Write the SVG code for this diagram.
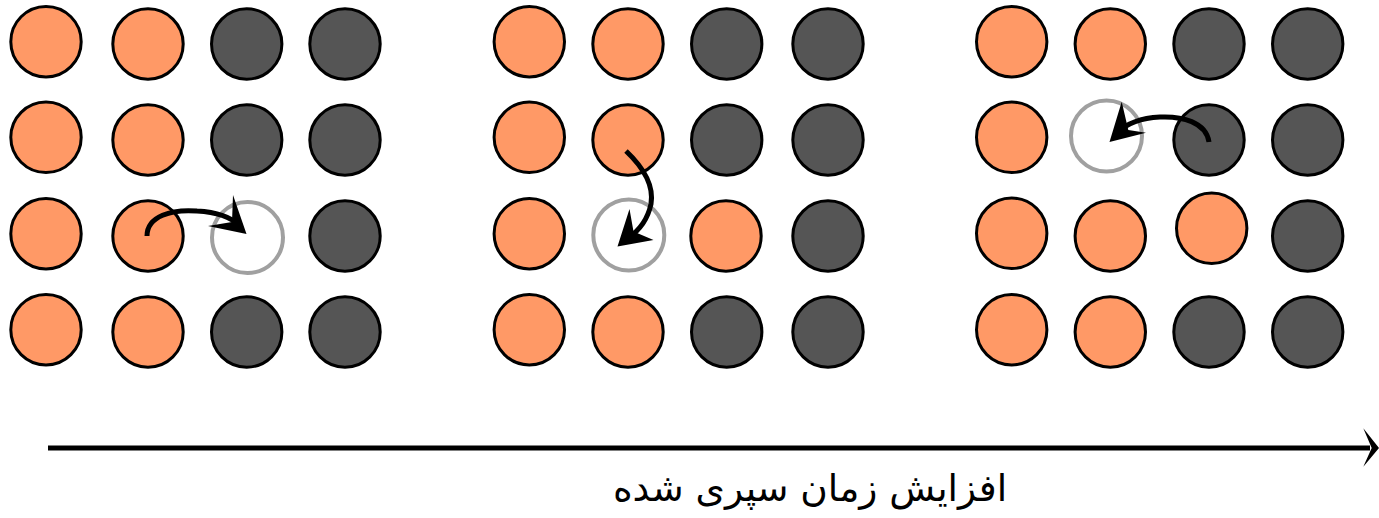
<svg xmlns="http://www.w3.org/2000/svg" width="1379" height="518" viewBox="0 0 1379 518">
<style>
.o{fill:#FF9966;stroke:#000;stroke-width:3}
.d{fill:#555555;stroke:#000;stroke-width:3}
.v{fill:#fff;stroke:#A0A0A0;stroke-width:4}
.c{fill:none;stroke:#000;stroke-width:5}
.h{fill:#000;stroke:none}
.t{font-family:"DejaVu Sans",sans-serif;font-size:37.5px;fill:#000}
</style>
<rect width="1379" height="518" fill="#fff"/>
<g id="grid1">
<g id="g1-r1c1"><circle class="o" cx="46" cy="41.7" r="35.2"/></g>
<g id="g1-r1c2"><circle class="o" cx="148" cy="44" r="35.2"/></g>
<g id="g1-r1c3"><circle class="d" cx="246.7" cy="44" r="35.2"/></g>
<g id="g1-r1c4"><circle class="d" cx="345" cy="44" r="35.2"/></g>
<g id="g1-r2c1"><circle class="o" cx="46" cy="137.3" r="35.2"/></g>
<g id="g1-r2c2"><circle class="o" cx="148" cy="140" r="35.2"/></g>
<g id="g1-r2c3"><circle class="d" cx="246.7" cy="140" r="35.2"/></g>
<g id="g1-r2c4"><circle class="d" cx="345" cy="140" r="35.2"/></g>
<g id="g1-r3c1"><circle class="o" cx="46" cy="233.7" r="35.2"/></g>
<g id="g1-r3c2"><circle class="o" cx="148" cy="236" r="35.2"/></g>
<g id="g1-r3c3"><circle class="v" cx="247.5" cy="237.5" r="35.5"/></g>
<g id="g1-r3c4"><circle class="d" cx="345" cy="236" r="35.2"/></g>
<g id="g1-r4c1"><circle class="o" cx="46" cy="329.7" r="35.2"/></g>
<g id="g1-r4c2"><circle class="o" cx="148" cy="332" r="35.2"/></g>
<g id="g1-r4c3"><circle class="d" cx="246.7" cy="332" r="35.2"/></g>
<g id="g1-r4c4"><circle class="d" cx="345" cy="332" r="35.2"/></g>
</g>
<g id="grid2">
<g id="g2-r1c1"><circle class="o" cx="529.3" cy="41.7" r="35.2"/></g>
<g id="g2-r1c2"><circle class="o" cx="628" cy="44" r="35.2"/></g>
<g id="g2-r1c3"><circle class="d" cx="726.7" cy="44" r="35.2"/></g>
<g id="g2-r1c4"><circle class="d" cx="828" cy="44" r="35.2"/></g>
<g id="g2-r2c1"><circle class="o" cx="529.3" cy="137.3" r="35.2"/></g>
<g id="g2-r2c2"><circle class="o" cx="628" cy="140" r="35.2"/></g>
<g id="g2-r2c3"><circle class="d" cx="726.7" cy="140" r="35.2"/></g>
<g id="g2-r2c4"><circle class="d" cx="828" cy="140" r="35.2"/></g>
<g id="g2-r3c1"><circle class="o" cx="529.3" cy="233.7" r="35.2"/></g>
<g id="g2-r3c2"><circle class="v" cx="628.8" cy="235" r="35.5"/></g>
<g id="g2-r3c3"><circle class="o" cx="726" cy="236" r="35.2"/></g>
<g id="g2-r3c4"><circle class="d" cx="828" cy="236" r="35.2"/></g>
<g id="g2-r4c1"><circle class="o" cx="529.3" cy="329.7" r="35.2"/></g>
<g id="g2-r4c2"><circle class="o" cx="628" cy="332" r="35.2"/></g>
<g id="g2-r4c3"><circle class="d" cx="726.7" cy="332" r="35.2"/></g>
<g id="g2-r4c4"><circle class="d" cx="828" cy="332" r="35.2"/></g>
</g>
<g id="grid3">
<g id="g3-r1c1"><circle class="o" cx="1011.7" cy="41.7" r="35.2"/></g>
<g id="g3-r1c2"><circle class="o" cx="1110.3" cy="44" r="35.2"/></g>
<g id="g3-r1c3"><circle class="d" cx="1209" cy="44" r="35.2"/></g>
<g id="g3-r1c4"><circle class="d" cx="1307.7" cy="44" r="35.2"/></g>
<g id="g3-r2c1"><circle class="o" cx="1011.7" cy="137.3" r="35.2"/></g>
<g id="g3-r2c2"><circle class="v" cx="1106.5" cy="136" r="35.5"/></g>
<g id="g3-r2c3"><circle class="d" cx="1209" cy="140" r="35.2"/></g>
<g id="g3-r2c4"><circle class="d" cx="1307.7" cy="140" r="35.2"/></g>
<g id="g3-r3c1"><circle class="o" cx="1011.7" cy="233.3" r="35.2"/></g>
<g id="g3-r3c2"><circle class="o" cx="1110.3" cy="236" r="35.2"/></g>
<g id="g3-r3c3"><circle class="o" cx="1211.7" cy="228.3" r="35.2"/></g>
<g id="g3-r3c4"><circle class="d" cx="1307.7" cy="236" r="35.2"/></g>
<g id="g3-r4c1"><circle class="o" cx="1011.7" cy="329.7" r="35.2"/></g>
<g id="g3-r4c2"><circle class="o" cx="1110.3" cy="332" r="35.2"/></g>
<g id="g3-r4c3"><circle class="d" cx="1209" cy="332" r="35.2"/></g>
<g id="g3-r4c4"><circle class="d" cx="1307.7" cy="332" r="35.2"/></g>
</g>
<g id="connectors">
<path class="c" d="M147,236 C147,216 172,209 197,211 C218,212 232,218 240,226"/>
<path class="h" d="M246.5,234 L233,195 L232,222 L208,226 Z"/>
<path class="c" d="M626,151 C644,168 654,186 651,204 C648,218 640,230 628,238"/>
<path class="h" d="M617.5,246.5 L629.5,209 L633.5,231.5 L653.5,240 Z"/>
<path class="c" d="M1209,142 C1206,122 1182,116 1160,117 C1140,118 1126,124 1117,133"/>
<path class="h" d="M1109.5,142 L1121.7,101.7 L1128.3,130 L1146,132.7 Z"/>
<path class="c" d="M48,448 L1370,448"/>
<path class="h" d="M1379,448 L1363.3,428.3 L1371.7,448 L1363.3,466.7 Z"/>
</g>
<text class="t" x="810" y="501" text-anchor="middle">افزایش زمان سپری شده</text>
</svg>
